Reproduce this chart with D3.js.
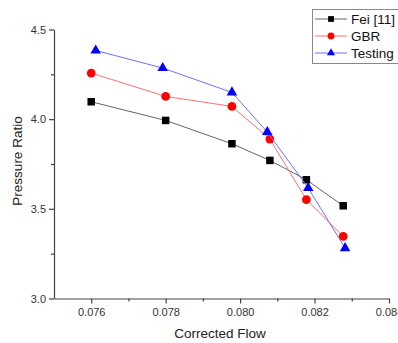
<!DOCTYPE html>
<html>
<head>
<meta charset="utf-8">
<script src="https://cdn.jsdelivr.net/npm/d3@7"></script>
<style>
  body { margin: 0; background: #fff; }
  text { font-family: Arial, "Liberation Sans", sans-serif; }
</style>
</head>
<body>
<svg id="chart" width="398" height="343"></svg>
<script>
const feiX = [0.0760, 0.0780, 0.07978, 0.0808, 0.08178, 0.08277];
const feiY = [4.097, 3.993, 3.863, 3.770, 3.662, 3.517];
const gbrX = [0.0760, 0.0780, 0.07978, 0.0808, 0.08178, 0.08277];
const gbrY = [4.257, 4.127, 4.071, 3.889, 3.551, 3.346];
const testX = [0.07612, 0.07792, 0.07978, 0.08073, 0.08183, 0.08282];
const testY = [4.383, 4.285, 4.149, 3.928, 3.616, 3.281];
const xTicks = [0.076, 0.078, 0.080, 0.082, 0.084];
const yTicks = [3.0, 3.5, 4.0, 4.5];
const seriesNames = ["Fei [11]", "GBR", "Testing"];

const svg = d3.select("#chart");
const x = d3.scaleLinear().domain([0.075, 0.084]).range([54, 389]);
const y = d3.scaleLinear().domain([3.0, 4.5]).range([298.5, 29.5]);

const series = [
  { name: seriesNames[0], xs: feiX, ys: feiY, color: "#000", line: "#666", sym: d3.symbolSquare, size: 56 },
  { name: seriesNames[1], xs: gbrX, ys: gbrY, color: "#f00", line: "#ff7070", sym: d3.symbolCircle, size: 60 },
  { name: seriesNames[2], xs: testX, ys: testY, color: "#00f", line: "#7070ff", sym: d3.symbolTriangle, size: 48 }
];

// axes
const axisColor = "#444";
const xAxis = svg.append("g").attr("transform", "translate(0,298.5)")
  .call(d3.axisBottom(x).tickValues(xTicks).tickFormat(d3.format(".3f")).tickSize(5).tickSizeOuter(0));
svg.append("g").attr("transform", "translate(0,298.5)")
  .call(d3.axisBottom(x).tickValues([0.077, 0.079, 0.081, 0.083]).tickFormat("").tickSize(3).tickSizeOuter(0))
  .select(".domain").remove();
const yAxis = svg.append("g").attr("transform", "translate(54,0)")
  .call(d3.axisLeft(y).tickValues(yTicks).tickFormat(d3.format(".1f")).tickSize(5).tickSizeOuter(0));
svg.append("g").attr("transform", "translate(54,0)")
  .call(d3.axisLeft(y).tickValues([3.25, 3.75, 4.25]).tickFormat("").tickSize(3).tickSizeOuter(0))
  .select(".domain").remove();

svg.selectAll(".domain, .tick line").attr("stroke", axisColor).attr("stroke-width", 1.2);
xAxis.selectAll(".tick text").attr("fill", "#333").attr("font-size", 11).attr("dy", "0.9em");
yAxis.selectAll(".tick text").attr("fill", "#333").attr("font-size", 11);

svg.append("text").attr("x", 220).attr("y", 338).attr("text-anchor", "middle")
  .attr("font-size", 13.5).attr("fill", "#222").text("Corrected Flow");
svg.append("text").attr("transform", "translate(22,161) rotate(-90)").attr("text-anchor", "middle")
  .attr("font-size", 13.5).attr("fill", "#222").text("Pressure Ratio");

// series
const line = d3.line();
series.forEach(s => {
  const pts = s.xs.map((v, i) => [x(v), y(s.ys[i])]);
  svg.append("path").attr("d", line(pts)).attr("fill", "none")
    .attr("stroke", s.line).attr("stroke-width", 1);
  svg.selectAll(null).data(pts).enter().append("path")
    .attr("transform", d => `translate(${d[0]},${d[1]})`)
    .attr("d", d3.symbol().type(s.sym).size(s.size))
    .attr("fill", s.color);
});

// legend
const lg = svg.append("g");
lg.append("rect").attr("x", 312.5).attr("y", 9.5).attr("width", 86).attr("height", 54)
  .attr("fill", "#fff").attr("stroke", "#888");
series.forEach((s, i) => {
  const ly = 19 + i * 17;
  lg.append("line").attr("x1", 315).attr("x2", 347).attr("y1", ly).attr("y2", ly)
    .attr("stroke", s.line).attr("stroke-width", 1);
  lg.append("path").attr("transform", `translate(331,${ly})`)
    .attr("d", d3.symbol().type(s.sym).size(s.size * 0.6)).attr("fill", s.color);
  lg.append("text").attr("x", 351).attr("y", ly).attr("dy", "0.35em")
    .attr("font-size", 13.5).attr("fill", "#111").text(s.name);
});
</script>
</body>
</html>
